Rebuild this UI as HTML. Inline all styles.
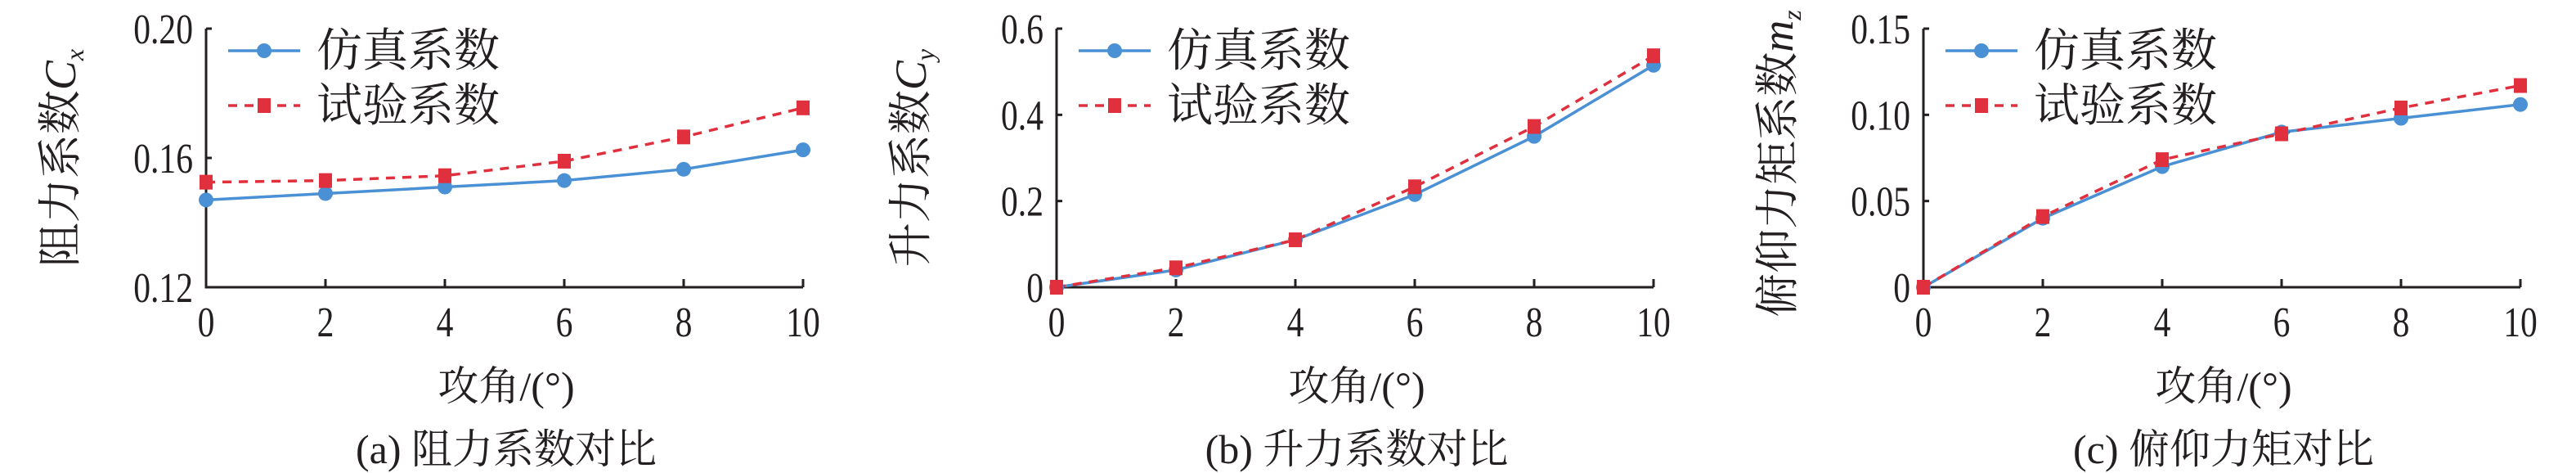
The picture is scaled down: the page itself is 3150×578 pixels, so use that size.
<!DOCTYPE html>
<html><head><meta charset="utf-8">
<style>
html,body{margin:0;padding:0;background:#fff;}
svg{display:block;}
</style></head>
<body>
<svg id="s" width="3150" height="578" viewBox="0 0 3150 578" xmlns="http://www.w3.org/2000/svg" style="font-family:'Liberation Serif','Noto Serif CJK SC',serif" font-family="Liberation Serif, Noto Serif CJK SC, serif" fill="#231f20"></svg>
<script>
(function(){
var S=document.getElementById('s');
var h='';
var F='font-family="Liberation Serif, Noto Serif CJK SC, serif" fill="#231f20"';
var panels=[
 {ox:252,min:0.12,max:0.20,ticks:[[0.12,'0.12'],[0.16,'0.16'],[0.20,'0.20']],
  b:[0.147,0.149,0.151,0.153,0.1565,0.1625],r:[0.1525,0.153,0.1545,0.159,0.1665,0.1755],
  yl:'阻力系数',sub:'C',subs:'x',cap:'(a) 阻力系数对比',yc:193},
 {ox:1292,min:0,max:0.6,ticks:[[0,'0'],[0.2,'0.2'],[0.4,'0.4'],[0.6,'0.6']],
  b:[0,0.04,0.11,0.215,0.35,0.515],r:[0,0.045,0.11,0.233,0.373,0.537],
  yl:'升力系数',sub:'C',subs:'y',cap:'(b) 升力系数对比',yc:193},
 {ox:2352,min:0,max:0.15,ticks:[[0,'0'],[0.05,'0.05'],[0.10,'0.10'],[0.15,'0.15']],
  b:[0,0.040,0.070,0.090,0.098,0.106],r:[0,0.041,0.074,0.089,0.104,0.117],
  yl:'俯仰力矩系数',sub:'m',subs:'z',cap:'(c) 俯仰力矩对比',yc:200}
];
var topY=35,bot=351,W=730;
panels.forEach(function(p){
 function X(i){return p.ox+i*W/5;}
 function Y(v){return bot-(v-p.min)/(p.max-p.min)*(bot-topY);}
 h+='<path d="M'+p.ox+' '+topY+'H'+(p.ox+7)+'M'+p.ox+' '+topY+'V'+bot+'H'+(p.ox+W)+'" stroke="#231f20" stroke-width="3" fill="none"/>';
 p.ticks.forEach(function(t){var y=Y(t[0]);
  h+='<line x1="'+p.ox+'" y1="'+y+'" x2="'+(p.ox+7)+'" y2="'+y+'" stroke="#231f20" stroke-width="3"/>';
  h+='<text '+F+' transform="translate('+(p.ox-16)+' '+(y+18)+') scale(0.8 1)" font-size="52" text-anchor="end">'+t[1]+'</text>';});
 for(var i=0;i<=5;i++){var x=X(i);
  h+='<line x1="'+x+'" y1="'+bot+'" x2="'+x+'" y2="'+(bot-10)+'" stroke="#231f20" stroke-width="3"/>';
  h+='<text '+F+' transform="translate('+x+' '+(bot+60)+') scale(0.8 1)" font-size="52" text-anchor="middle">'+(i*2)+'</text>';}
 var bp=p.b.map(function(v,i){return X(i)+','+Y(v);}).join(' ');
 var rp=p.r.map(function(v,i){return X(i)+','+Y(v);}).join(' ');
 h+='<polyline points="'+bp+'" fill="none" stroke="#4a90d4" stroke-width="3.5"/>';
 h+='<polyline points="'+rp+'" fill="none" stroke="#e0303e" stroke-width="3.5" stroke-dasharray="11 9"/>';
 p.b.forEach(function(v,i){h+='<circle cx="'+X(i)+'" cy="'+Y(v)+'" r="9" fill="#4a90d4"/>';});
 p.r.forEach(function(v,i){h+='<rect x="'+(X(i)-8)+'" y="'+(Y(v)-9)+'" width="16" height="18" fill="#e0303e"/>';});
 h+='<line x1="'+(p.ox+27)+'" y1="62" x2="'+(p.ox+115)+'" y2="62" stroke="#4a90d4" stroke-width="3.5"/><circle cx="'+(p.ox+71)+'" cy="62" r="9" fill="#4a90d4"/>';
 h+='<line x1="'+(p.ox+27)+'" y1="129" x2="'+(p.ox+115)+'" y2="129" stroke="#e0303e" stroke-width="3.5" stroke-dasharray="11 9"/><rect x="'+(p.ox+63)+'" y="120" width="16" height="18" fill="#e0303e"/>';
 h+='<text '+F+' x="'+(p.ox+135)+'" y="81" font-size="56">仿真系数</text><text '+F+' x="'+(p.ox+135)+'" y="148" font-size="56">试验系数</text>';
 h+='<text '+F+' transform="translate('+(p.ox-160)+' '+p.yc+') rotate(-90)" font-size="54" text-anchor="middle">'+p.yl+'<tspan font-style="italic">'+p.sub+'</tspan><tspan font-style="italic" font-size="32" dy="10">'+p.subs+'</tspan></text>';
 h+='<text '+F+' x="'+(p.ox+367)+'" y="489" font-size="50" text-anchor="middle">攻角/(°)</text>';
 h+='<text '+F+' x="'+(p.ox+367)+'" y="566" font-size="50" text-anchor="middle">'+p.cap+'</text>';
});
S.innerHTML=h;
})();
</script>
</body></html>
